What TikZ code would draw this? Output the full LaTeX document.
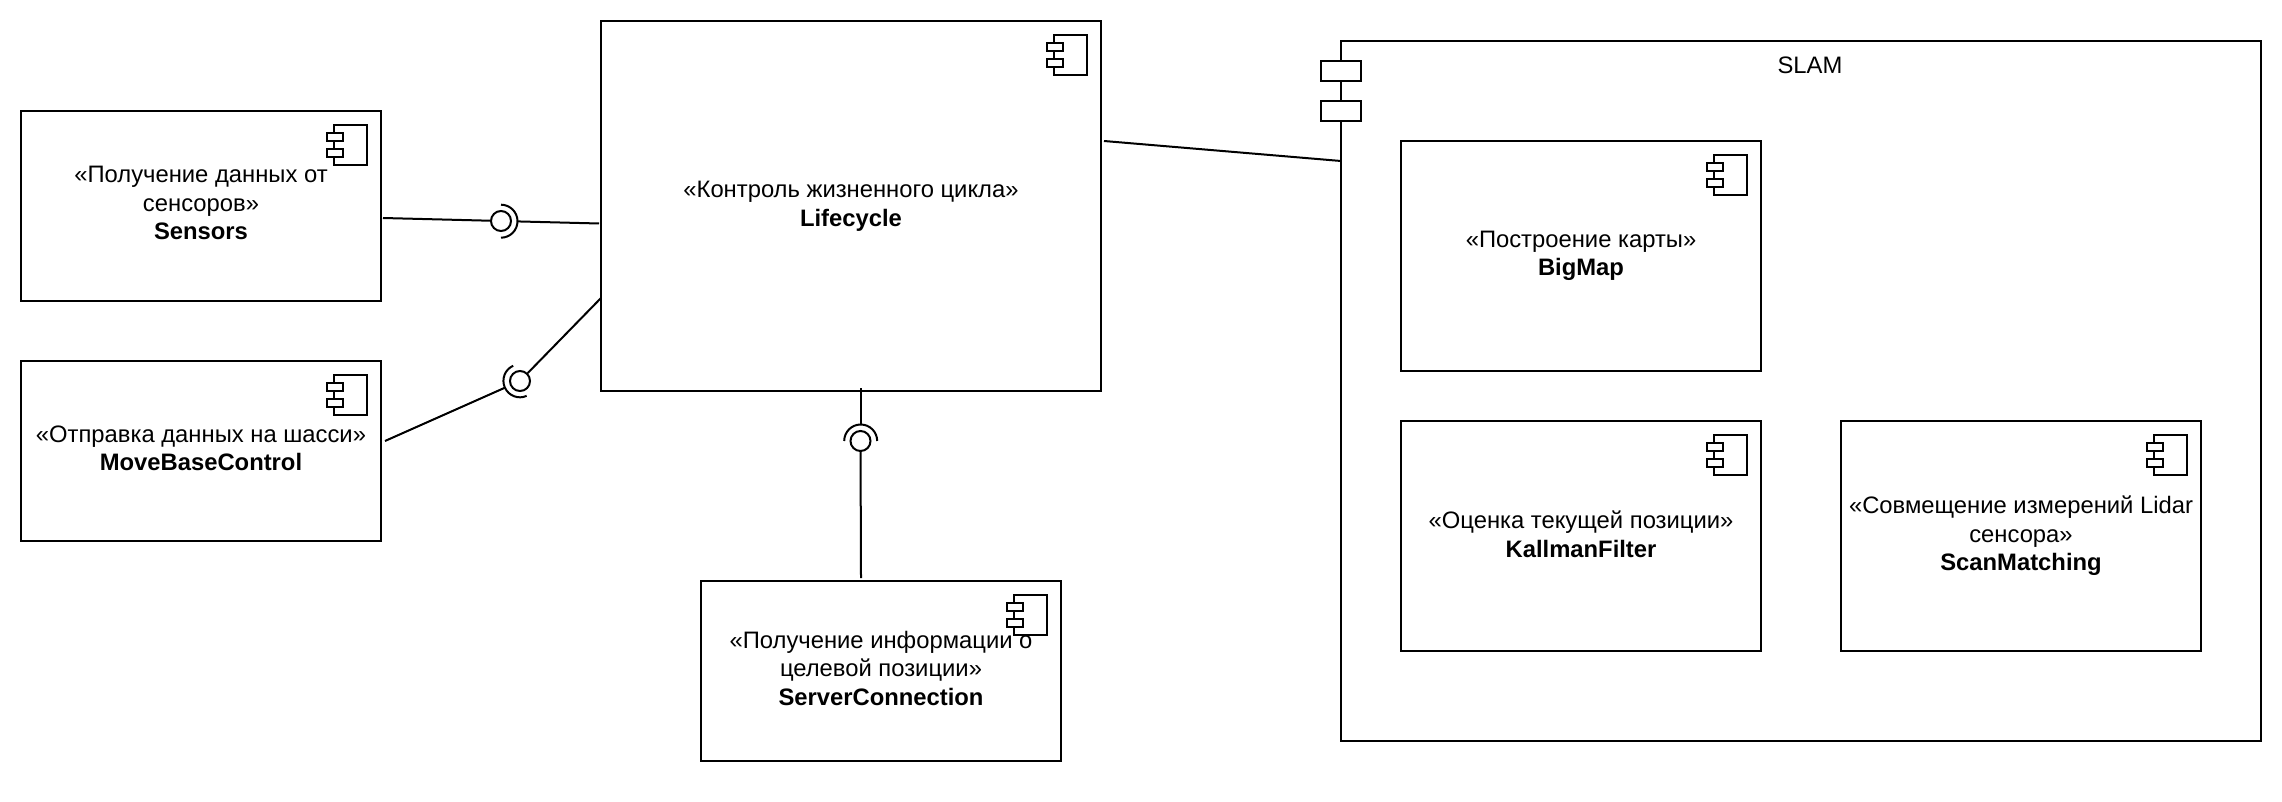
\documentclass[tikz,border=0pt]{standalone}
\usepackage{fontspec}
\setmainfont{Liberation Sans}
\usetikzlibrary{positioning}

\newcommand{\compicon}[1]{
    \draw[icon] ([shift={(-47pt,-14pt)}]#1.north east) rectangle ([shift={(-14pt,-54pt)}]#1.north east);
    \draw[icon, fill=white] ([shift={(-54pt,-22pt)}]#1.north east) rectangle ([shift={(-38pt,-30pt)}]#1.north east);
    \draw[icon, fill=white] ([shift={(-54pt,-38pt)}]#1.north east) rectangle ([shift={(-38pt,-46pt)}]#1.north east);
}
\newcommand{\socketarc}[2]{
    \draw[wire] (#1.#2-90) arc[start angle=#2-90, end angle=#2+90, radius=16.5pt];
}

\begin{document}
\begin{tikzpicture}[
        x=1pt, y=-1pt,
        comp/.style={rectangle, draw, line width=2pt, outer sep=0pt, inner sep=0pt, align=center, font=\fontsize{23.8}{28.6}\selectfont},
        smallcomp/.style={comp, minimum width=360pt, minimum height=180pt, text depth=6pt},
        slamcomp/.style={comp, minimum width=360pt, minimum height=230pt},
        port/.style={rectangle, draw, fill=white, line width=2pt, outer sep=0pt, minimum width=40pt, minimum height=20pt, inner sep=0pt},
        icon/.style={line width=2pt},
        wire/.style={line width=2pt},
        ball/.style={circle, draw, line width=2pt, minimum size=20pt, inner sep=0pt},
        socket/.style={circle, minimum size=33pt, inner sep=0pt}
    ]
        \useasboundingbox (0,0) rectangle (2282,802);

        \node[comp, minimum width=360pt, minimum height=190pt, text depth=6pt] (SENSORS) at (201,206) {«Получение данных от\\сенсоров»\\\textbf{Sensors}};
        \node[smallcomp, below=60pt of SENSORS] (MOVEBASE) {«Отправка данных на шасси»\\\textbf{MoveBaseControl}};
        \node[comp, minimum width=500pt, minimum height=370pt] (LIFECYCLE) at (851,206) {«Контроль жизненного цикла»\\\textbf{Lifecycle}};
        \node[smallcomp] (SERVER) at (881,671) {«Получение информации о\\целевой позиции»\\\textbf{ServerConnection}};

        \node[comp, minimum width=920pt, minimum height=700pt] (SLAM) at (1801,391) {};
        \node[font=\fontsize{23.8}{28.6}\selectfont] (SLAMTITLE) at (1810,65) {SLAM};
        \node[port] (PORTA) at (1341,71) {};
        \node[port, below=20pt of PORTA] (PORTB) {};
        \node[slamcomp] (BIGMAP) at (1581,256) {«Построение карты»\\\textbf{BigMap}};
        \node[slamcomp, below=50pt of BIGMAP, text depth=4pt] (KALMAN) {«Оценка текущей позиции»\\\textbf{KallmanFilter}};
        \node[slamcomp, right=80pt of KALMAN] (SCAN) {«Совмещение измерений Lidar\\сенсора»\\\textbf{ScanMatching}};

        \foreach \comp in {SENSORS, MOVEBASE, LIFECYCLE, SERVER, BIGMAP, KALMAN, SCAN} {
            \compicon{\comp}
        }

        \coordinate (sensorsOut) at (383,218);
        \coordinate (lifeSensors) at (599,223.5);
        \coordinate (moveOut) at (385,441);
        \coordinate (lifeMove) at (601,298);
        \coordinate (lifeServer) at (860.5,388);
        \coordinate (serverOut) at (861,578);
        \coordinate (lifeSlam) at (1104,141);
        \coordinate (slamIn) at (1341,161);

        \node[ball] (BALLA) at (501,221) {};
        \node[socket] (SOCKA) at (501,221) {};
        \node[ball] (BALLB) at (520,381) {};
        \node[socket] (SOCKB) at (520,381) {};
        \node[ball] (BALLC) at (860.5,441) {};
        \node[socket] (SOCKC) at (860.5,441) {};

        \socketarc{SOCKA}{0}
        \socketarc{SOCKB}{204}
        \socketarc{SOCKC}{90}

        \draw[wire] (sensorsOut) -- (BALLA);
        \draw[wire] (lifeSensors) -- (SOCKA);
        \draw[wire] (moveOut) -- (SOCKB);
        \draw[wire] (lifeMove) -- (BALLB);
        \draw[wire] (lifeServer) -- (SOCKC);
        \draw[wire] (serverOut) -- (BALLC);
        \draw[wire] (lifeSlam) -- (slamIn);
    \end{tikzpicture}
\end{document}
